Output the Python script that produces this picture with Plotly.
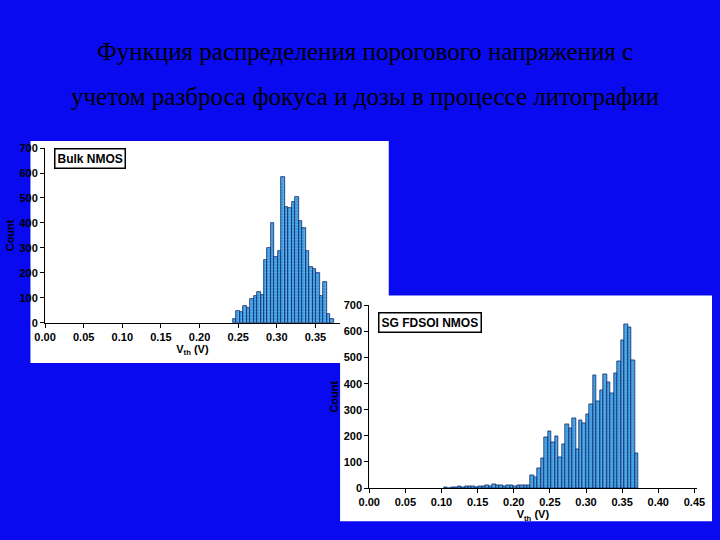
import plotly.graph_objects as go

bulk_start = 0.243
bulk_bin = 0.0045
bulk_counts = [15, 48, 42, 68, 60, 94, 107, 122, 113, 250, 300, 400, 263, 289, 582,
               465, 458, 484, 504, 406, 380, 289, 224, 217, 198, 107, 165, 35, 15]

fd_bin = 0.0048
fd_counts = [2, 0, 3, 2, 5, 3, 6, 8, 5, 4, 7, 6, 10, 8, 15, 12, 10, 8, 10, 10, 8, 9, 10, 12, 10,
             50, 42, 75, 115, 196, 219, 174, 199, 119, 168, 244, 228, 268, 149, 261, 249, 284,
             319, 431, 334, 375, 436, 406, 361, 440, 484, 565, 627, 615, 490, 134]
fd_start = 0.2234 - 25 * fd_bin

xticks = [0.00, 0.05, 0.10, 0.15, 0.20, 0.25, 0.30, 0.35, 0.40, 0.45]
yticks = [0, 100, 200, 300, 400, 500, 600, 700]

bx = [bulk_start + (i + 0.5) * bulk_bin for i in range(len(bulk_counts))]
fx = [fd_start + (i + 0.5) * fd_bin for i in range(len(fd_counts))]

bar_style = dict(color="#3a9be0", line=dict(color="#0a2a6a", width=0.8),
                 pattern=dict(shape="+", size=3, fgcolor="#bfe4ff", solidity=0.25))

fig = go.Figure()
fig.add_bar(x=bx, y=bulk_counts, width=bulk_bin, marker=bar_style, xaxis="x", yaxis="y")
fig.add_bar(x=fx, y=fd_counts, width=fd_bin, marker=bar_style, xaxis="x2", yaxis="y2")

tickfont = dict(family="Liberation Sans", size=11, color="black", weight="bold")
axcommon = dict(showgrid=False, zeroline=False, showline=True, linecolor="black", linewidth=1,
                ticks="outside", ticklen=4, tickcolor="black", tickfont=tickfont)

fig.update_layout(
    width=720, height=540, margin=dict(l=0, r=0, t=0, b=0), autosize=False,
    paper_bgcolor="#0a0af0", plot_bgcolor="white", showlegend=False, bargap=0,
    xaxis=dict(domain=[0.0486, 0.469], range=[0, 0.3815], anchor="y",
               tickvals=xticks[:8], ticktext=[f"{v:.2f}" for v in xticks[:8]],
               title=dict(text="V<sub>th</sub> (V)", font=tickfont, standoff=2), **axcommon),
    yaxis=dict(domain=[0.4, 0.731], range=[0, 700], anchor="x", tickvals=yticks,
               title=dict(text="Count", font=tickfont, standoff=2), **axcommon),
    xaxis2=dict(domain=[0.511, 0.978], range=[0, 0.453], anchor="y2",
                tickvals=xticks, ticktext=[f"{v:.2f}" for v in xticks],
                title=dict(text="V<sub>th</sub> (V)", font=tickfont, standoff=2), **axcommon),
    yaxis2=dict(domain=[0.087, 0.433], range=[0, 700], anchor="x2", tickvals=yticks,
                title=dict(text="Count", font=tickfont, standoff=2), **axcommon),
    shapes=[
        dict(type="rect", xref="paper", yref="paper", x0=20/720, x1=388/720, y0=1-365/540, y1=1-138/540,
             fillcolor="white", line=dict(width=0), layer="below"),
        dict(type="rect", xref="paper", yref="paper", x0=338/720, x1=1, y0=1-527/540, y1=1-296/540,
             fillcolor="white", line=dict(width=0), layer="below"),
    ],
    annotations=[
        dict(text="Функция распределения порогового напряжения с", xref="paper", yref="paper",
             x=0.505, y=1-47/540, showarrow=False, yanchor="middle",
             font=dict(family="Liberation Serif", size=25, color="black")),
        dict(text="учетом разброса фокуса и дозы в процессе литографии", xref="paper", yref="paper",
             x=0.505, y=1-93/540, showarrow=False, yanchor="middle",
             font=dict(family="Liberation Serif", size=25, color="black")),
        dict(text="Bulk NMOS", xref="x", yref="y", x=0.012, y=660, xanchor="left", yanchor="middle",
             showarrow=False, bgcolor="white", bordercolor="black", borderwidth=1.5, borderpad=2,
             font=dict(family="Liberation Sans", size=12, color="black", weight="bold")),
        dict(text="SG FDSOI NMOS", xref="x2", yref="y2", x=0.012, y=635, xanchor="left", yanchor="middle",
             showarrow=False, bgcolor="white", bordercolor="black", borderwidth=1.5, borderpad=2,
             font=dict(family="Liberation Sans", size=12, color="black", weight="bold")),
    ],
)
fig.write_html("out.html", config={"displayModeBar": False},
               post_script="document.body.style.margin='0';document.body.style.overflow='hidden';")
